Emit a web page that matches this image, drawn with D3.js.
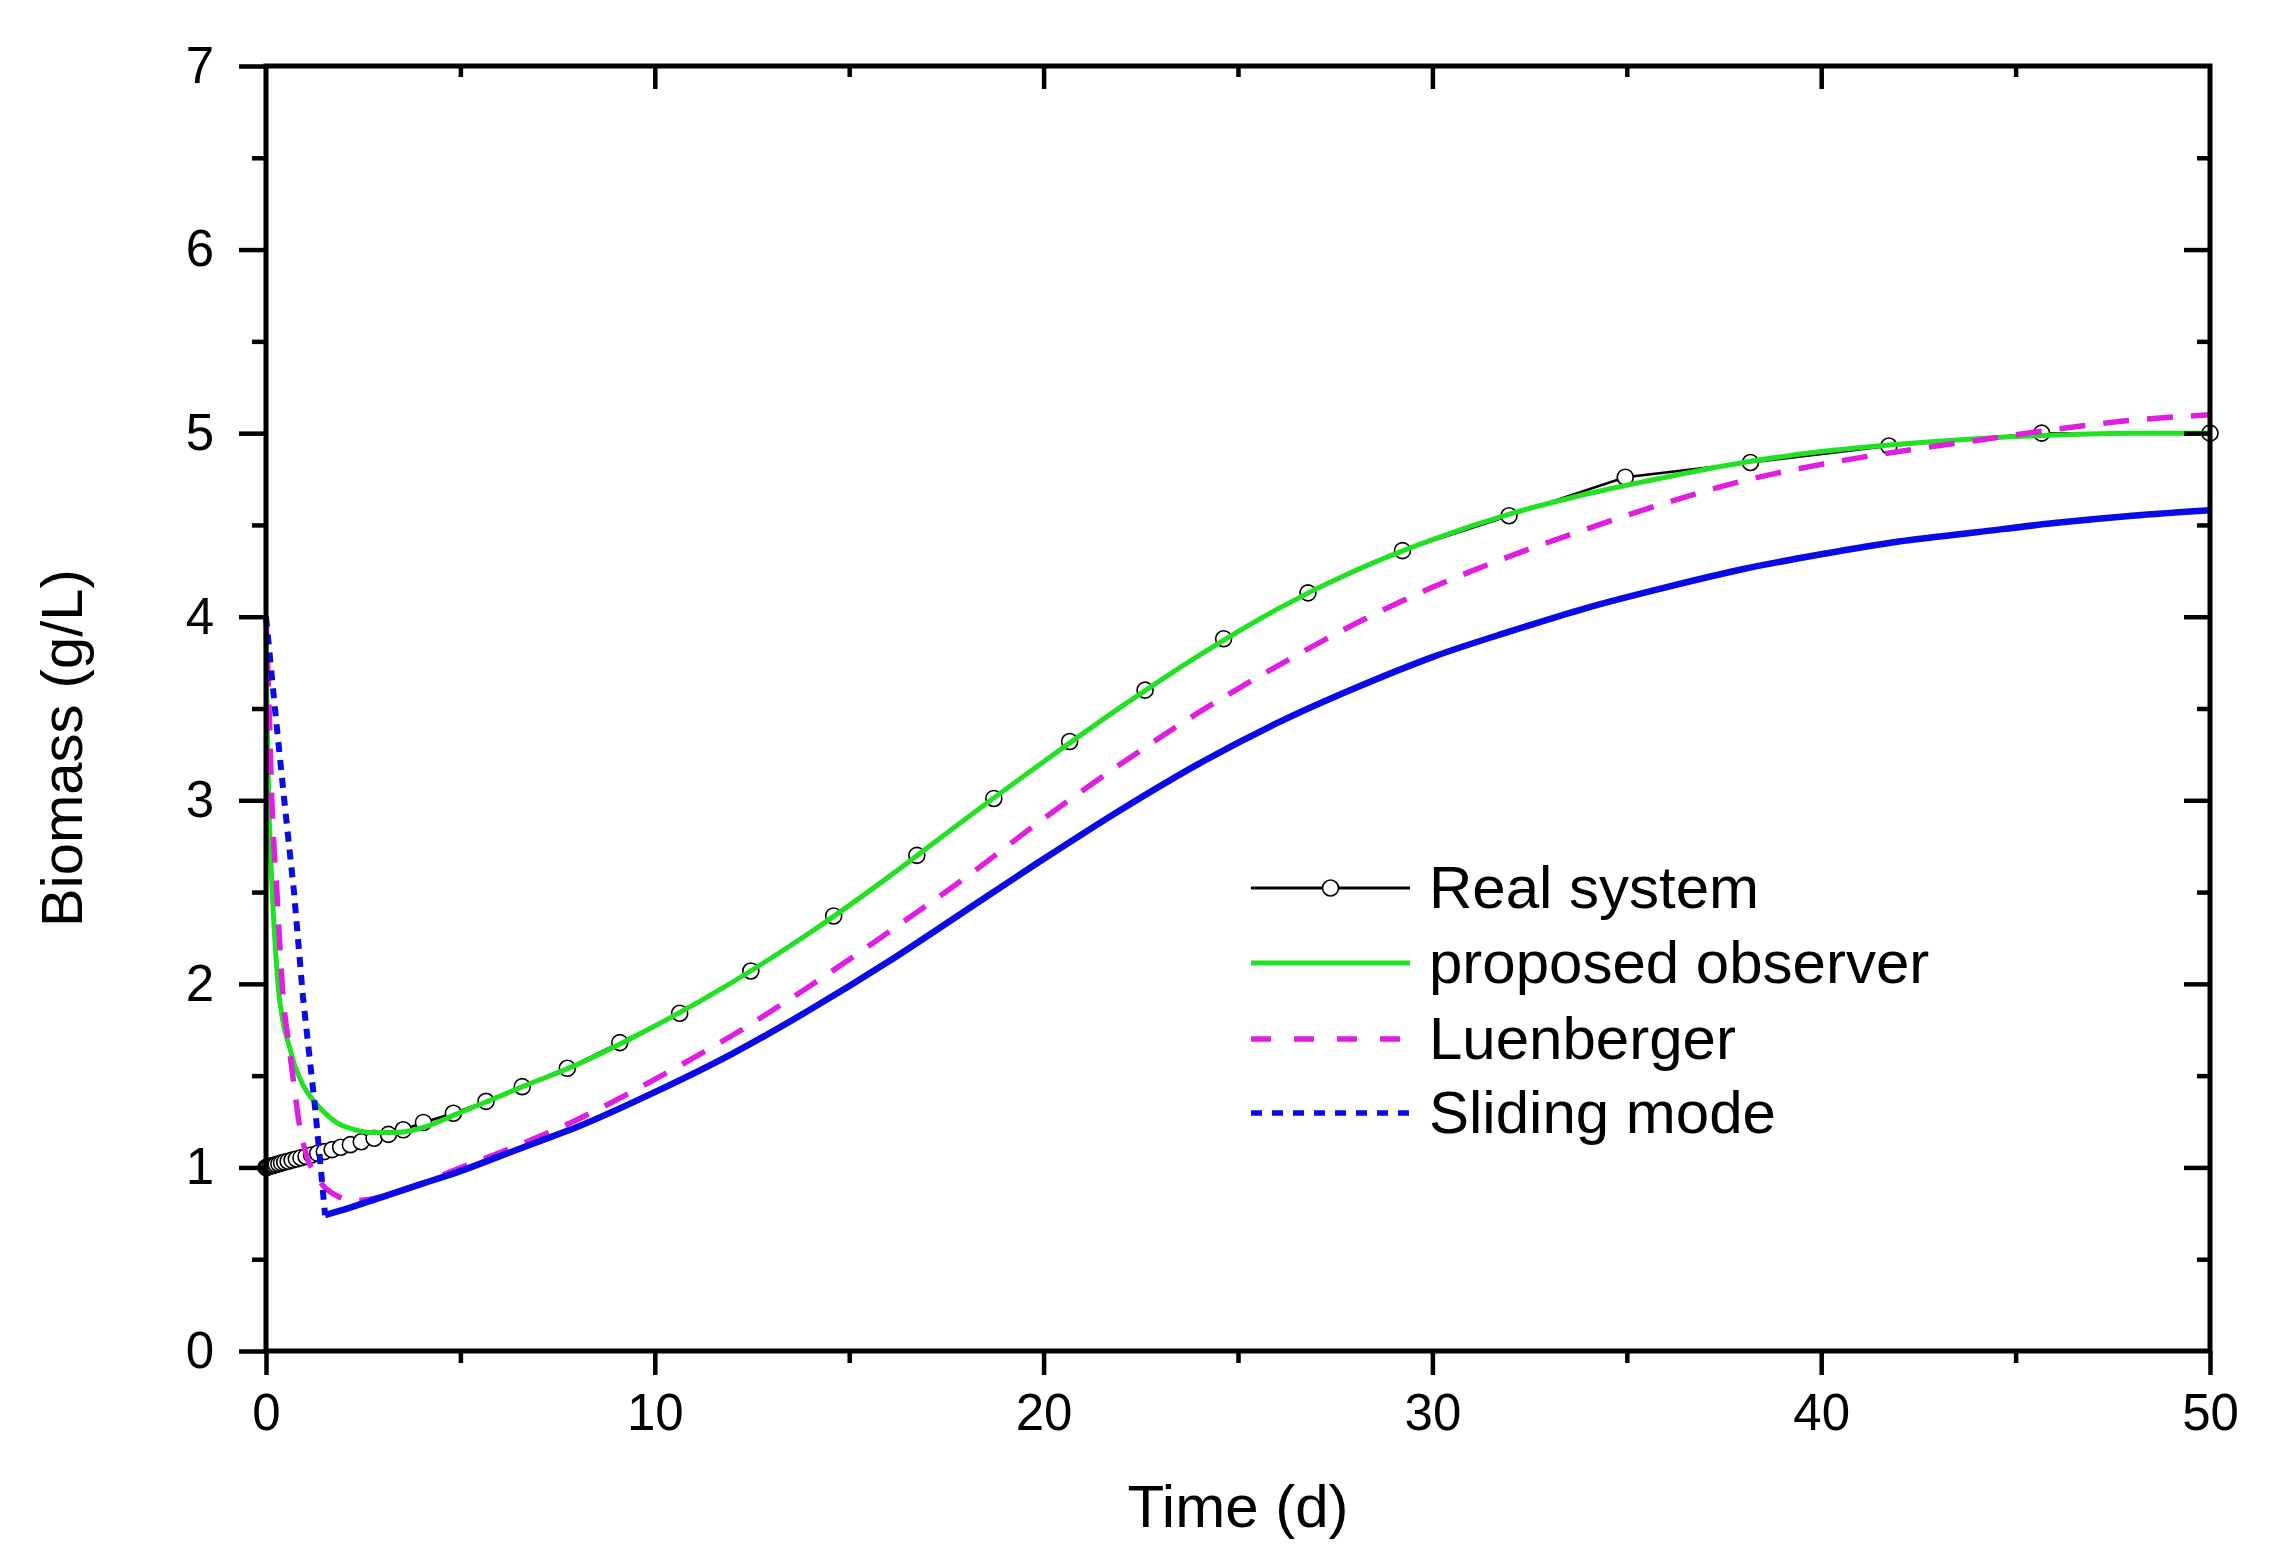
<!DOCTYPE html>
<html>
<head>
<meta charset="utf-8">
<script src="https://cdn.jsdelivr.net/npm/d3@7"></script>
<style>
  html, body { margin: 0; padding: 0; background: #fff; }
  svg { display: block; }
  text { font-family: "Liberation Sans", Arial, sans-serif; fill: #000; }
</style>
</head>
<body>
<svg id="chart" width="2279" height="1557"></svg>
<script>
// ---------- data ----------
const xMajor = [0, 10, 20, 30, 40, 50];
const xMinor = [5, 15, 25, 35, 45];
const yMajor = [0, 1, 2, 3, 4, 5, 6, 7];
const yMinor = [0.5, 1.5, 2.5, 3.5, 4.5, 5.5, 6.5];

const seriesNames = ["Real system", "proposed observer", "Luenberger", "Sliding mode"];

// Real system (markers = solver points)
const realT = [0, 0.03, 0.06, 0.1, 0.15, 0.2, 0.26, 0.33, 0.4, 0.48, 0.57, 0.67, 0.78, 0.9, 1.03, 1.17, 1.33, 1.5, 1.7, 1.92, 2.17, 2.45, 2.78, 3.15, 3.53, 4.05, 4.82, 5.66, 6.59, 7.75, 9.10, 10.64, 12.47, 14.60, 16.74, 18.72, 20.67, 22.61, 24.63, 26.80, 29.23, 31.97, 34.96, 38.18, 41.74, 45.67, 50.0];
const realY = [1.000, 1.002, 1.004, 1.006, 1.009, 1.012, 1.016, 1.020, 1.025, 1.029, 1.034, 1.040, 1.046, 1.053, 1.060, 1.068, 1.077, 1.086, 1.097, 1.110, 1.124, 1.140, 1.159, 1.180, 1.205, 1.245, 1.295, 1.36, 1.44, 1.54, 1.68, 1.84, 2.07, 2.37, 2.70, 3.01, 3.32, 3.60, 3.88, 4.13, 4.36, 4.55, 4.76, 4.84, 4.93, 5.00, 5.00];

// proposed observer
const obsT = [0, 0.01, 0.03, 0.07, 0.11, 0.16, 0.24, 0.33, 0.45, 0.6, 0.75, 0.95, 1.2, 1.5, 1.85, 2.3, 2.75, 3.3, 4.0, 4.9, 5.7, 6.6, 8, 10, 12, 14, 16, 18, 20, 22, 24, 26, 28, 30, 32, 34, 36, 38, 40, 42, 44, 46, 48, 50];
const obsY = [3.92, 3.7, 3.45, 3.0, 2.75, 2.5, 2.2, 1.95, 1.78, 1.66, 1.55, 1.45, 1.37, 1.30, 1.24, 1.205, 1.19, 1.19, 1.215, 1.29, 1.36, 1.44, 1.56, 1.77, 2.01, 2.28, 2.58, 2.90, 3.21, 3.51, 3.79, 4.04, 4.25, 4.42, 4.56, 4.67, 4.76, 4.84, 4.90, 4.94, 4.97, 4.99, 5.00, 5.00];

// Luenberger observer
const luenT = [0, 0.04, 0.08, 0.15, 0.28, 0.44, 0.58, 0.7, 0.87, 1.05, 1.3, 1.7, 2.3, 3.0, 3.6, 4.9, 6, 8, 10, 12, 14, 16, 18, 20, 22, 24, 26, 28, 30, 32, 34, 36, 38, 40, 42, 44, 46, 48, 50];
const luenY = [4.0, 3.75, 3.5, 3.0, 2.5, 1.93, 1.68, 1.48, 1.22, 1.06, 0.95, 0.86, 0.82, 0.84, 0.88, 0.99, 1.08, 1.26, 1.48, 1.72, 1.99, 2.28, 2.58, 2.90, 3.20, 3.48, 3.73, 3.96, 4.16, 4.33, 4.48, 4.62, 4.74, 4.83, 4.90, 4.96, 5.02, 5.07, 5.10];

// Sliding mode observer (reaching phase up to smReachT, then sliding)
const smT = [0, 0.23, 0.47, 0.72, 0.95, 1.26, 1.39, 1.52, 2, 3, 4, 5, 6, 7, 8, 10, 12, 14, 16, 18, 20, 22, 24, 26, 28, 30, 32, 34, 36, 38, 40, 42, 44, 46, 48, 50];
const smY = [4.0, 3.5, 3.0, 2.5, 1.93, 1.33, 1.04, 0.74, 0.77, 0.84, 0.91, 0.98, 1.06, 1.14, 1.22, 1.41, 1.62, 1.86, 2.12, 2.40, 2.68, 2.95, 3.20, 3.42, 3.61, 3.78, 3.92, 4.05, 4.16, 4.26, 4.34, 4.41, 4.46, 4.51, 4.55, 4.58];
const smReachT = 1.52;

// ---------- styles ----------
const C_REAL = "#000000", C_OBS = "#22e022", C_LUEN = "#e01ee0", C_SM = "#0a0ae6";

const svg = d3.select("#chart");
const x = d3.scaleLinear().domain([0, 50]).range([266, 2210]);
const y = d3.scaleLinear().domain([0, 7]).range([1351, 66]);

const zip = (ts, vs) => ts.map((t, i) => ({t: t, v: vs[i]}));
const line = d3.line().x(d => x(d.t)).y(d => y(d.v));
const smooth = d3.line().x(d => x(d.t)).y(d => y(d.v)).curve(d3.curveMonotoneX);

const plot = svg.append("g");

// Real system
const real = zip(realT, realY);
plot.append("path").attr("d", line(real)).attr("fill", "none")
  .attr("stroke", C_REAL).attr("stroke-width", 2.5);
plot.selectAll("circle.real").data(real).enter().append("circle")
  .attr("class", "real")
  .attr("cx", d => x(d.t)).attr("cy", d => y(d.v)).attr("r", 8)
  .attr("fill", "#fff").attr("stroke", C_REAL).attr("stroke-width", 1.6);

// proposed observer
plot.append("path").attr("d", smooth(zip(obsT, obsY))).attr("fill", "none")
  .attr("stroke", C_OBS).attr("stroke-width", 5);

// Luenberger
plot.append("path").attr("d", smooth(zip(luenT, luenY))).attr("fill", "none")
  .attr("stroke", C_LUEN).attr("stroke-width", 5.5).attr("stroke-dasharray", "26,18");

// Sliding mode
const sm = zip(smT, smY);
plot.append("path").attr("d", line(sm.filter(d => d.t <= smReachT))).attr("fill", "none")
  .attr("stroke", C_SM).attr("stroke-width", 6).attr("stroke-dasharray", "10,8");
plot.append("path").attr("d", smooth(sm.filter(d => d.t >= smReachT))).attr("fill", "none")
  .attr("stroke", C_SM).attr("stroke-width", 6.5);

// ---------- axes ----------
function styleAxis(g) {
  g.select(".domain").remove();
  g.selectAll(".tick line").attr("stroke", "#000").attr("stroke-width", 4.5);
  g.selectAll(".tick text").attr("font-size", 51).attr("fill", "#000")
    .attr("font-family", "'Liberation Sans', Arial, sans-serif");
}
const fmt = d3.format("d");
// bottom
svg.append("g").attr("transform", "translate(0,1351)")
  .call(d3.axisBottom(x).tickValues(xMajor).tickSize(24).tickPadding(19).tickFormat(fmt).tickSizeOuter(0))
  .call(styleAxis);
svg.append("g").attr("transform", "translate(0,1351)")
  .call(d3.axisBottom(x).tickValues(xMinor).tickSize(12).tickFormat("").tickSizeOuter(0))
  .call(styleAxis);
// left
svg.append("g").attr("transform", "translate(266,0)")
  .call(d3.axisLeft(y).tickValues(yMajor).tickSize(27).tickPadding(25).tickFormat(fmt).tickSizeOuter(0))
  .call(styleAxis);
svg.append("g").attr("transform", "translate(266,0)")
  .call(d3.axisLeft(y).tickValues(yMinor).tickSize(14).tickFormat("").tickSizeOuter(0))
  .call(styleAxis);
// top (inward)
svg.append("g").attr("transform", "translate(0,66)")
  .call(d3.axisBottom(x).tickValues(xMajor.slice(1, -1)).tickSize(23).tickFormat("").tickSizeOuter(0))
  .call(styleAxis);
svg.append("g").attr("transform", "translate(0,66)")
  .call(d3.axisBottom(x).tickValues(xMinor).tickSize(11).tickFormat("").tickSizeOuter(0))
  .call(styleAxis);
// right (inward)
svg.append("g").attr("transform", "translate(2210,0)")
  .call(d3.axisLeft(y).tickValues(yMajor.slice(1, -1)).tickSize(26).tickFormat("").tickSizeOuter(0))
  .call(styleAxis);
svg.append("g").attr("transform", "translate(2210,0)")
  .call(d3.axisLeft(y).tickValues(yMinor).tickSize(13).tickFormat("").tickSizeOuter(0))
  .call(styleAxis);

// frame
svg.append("rect").attr("x", x(0)).attr("y", y(7))
  .attr("width", x(50) - x(0)).attr("height", y(0) - y(7))
  .attr("fill", "none").attr("stroke", "#000").attr("stroke-width", 5);

// axis titles
svg.append("text").attr("x", (x(0) + x(50)) / 2).attr("y", 1527)
  .attr("text-anchor", "middle").attr("font-size", 60).text("Time (d)");
svg.append("text").attr("transform", "translate(82,748) rotate(-90)")
  .attr("text-anchor", "middle").attr("font-size", 58).text("Biomass (g/L)");

// ---------- legend ----------
const legRows = [888, 963, 1039, 1113];
const lx0 = 1251, lx1 = 1410, ltx = 1429;
const leg = svg.append("g");
seriesNames.forEach((name, i) => {
  const yy = legRows[i];
  const l = leg.append("line").attr("x1", lx0).attr("x2", lx1).attr("y1", yy).attr("y2", yy)
    .attr("fill", "none");
  if (i === 0) {
    l.attr("stroke", C_REAL).attr("stroke-width", 3);
    leg.append("circle").attr("cx", (lx0 + lx1) / 2).attr("cy", yy).attr("r", 8)
      .attr("fill", "#fff").attr("stroke", C_REAL).attr("stroke-width", 1.6);
  } else if (i === 1) {
    l.attr("stroke", C_OBS).attr("stroke-width", 5);
  } else if (i === 2) {
    l.attr("stroke", C_LUEN).attr("stroke-width", 5.5).attr("stroke-dasharray", "20,23");
  } else {
    l.attr("stroke", C_SM).attr("stroke-width", 5.5).attr("stroke-dasharray", "11,10");
  }
  leg.append("text").attr("x", ltx).attr("y", yy + 20).attr("font-size", 60).text(name);
});
</script>
</body>
</html>
